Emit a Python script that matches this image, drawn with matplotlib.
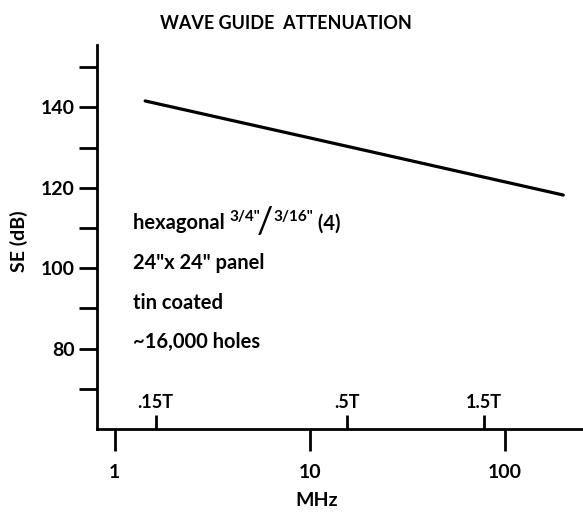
import matplotlib
matplotlib.use("Agg")
import matplotlib.pyplot as plt
from matplotlib.ticker import NullFormatter, NullLocator

# data
freq_mhz = [1.43, 10, 199]
se_db = [141.6, 132.4, 118.2]

x_ticks = [1, 10, 100]
x_tick_labels = ["1", "10", "100"]
t_ticks = [1.62, 15.5, 78]
t_tick_labels = [".15T", ".5T", "1.5T"]
y_major = [80, 100, 120, 140]
y_minor = [70, 90, 110, 130, 150]

notes = ['24"x 24" panel', "tin coated", "~16,000 holes"]

plt.rcParams['font.family'] = ['Lato', 'DejaVu Sans']

fig = plt.figure(figsize=(5.83, 5.12), dpi=100)
ax = fig.add_axes([0.1664, 0.162, 0.8336, 0.750])

ax.plot(freq_mhz, se_db, color="black", lw=2.3, solid_capstyle="round")

ax.set_xscale("log")
ax.set_xlim(0.81, 251)
ax.set_ylim(60, 155.5)

ax.spines[["top", "right"]].set_visible(False)
for s in ["left", "bottom"]:
    ax.spines[s].set_linewidth(2.0)

# x axis: decade ticks below
ax.set_xticks(x_ticks, labels=x_tick_labels)
ax.xaxis.set_minor_locator(NullLocator())
ax.xaxis.set_minor_formatter(NullFormatter())
ax.tick_params(axis="x", which="major", direction="out", length=16, width=2,
               pad=9, labelsize=14)
for lab in ax.get_xticklabels():
    lab.set_fontweight("bold")

# y axis
ax.set_yticks(y_major)
ax.set_yticks(y_minor, minor=True)
ax.tick_params(axis="y", which="both", direction="out", length=13, width=2,
               pad=3, labelsize=14)
for lab in ax.get_yticklabels():
    lab.set_fontweight("bold")

# thickness markers above the frequency axis
sec = ax.secondary_xaxis(0)
sec.set_alignment("top")
sec.set_xticks(t_ticks, labels=t_tick_labels)
sec.xaxis.set_minor_locator(NullLocator())
sec.tick_params(axis="x", which="major", direction="out", length=10, width=2,
                pad=3, labelsize=13)
sec.spines["bottom"].set_visible(False)
sec.spines["top"].set_visible(False)
for lab in sec.get_xticklabels():
    lab.set_fontweight("bold")

ax.set_xlabel("MHz", fontsize=14, fontweight="bold")
ax.xaxis.set_label_coords(0.453, -0.163)
ax.set_ylabel("SE (dB)", fontsize=14, fontweight="bold")
ax.yaxis.set_label_coords(-0.142, 0.49)

fig.text(0.49, 0.955, "WAVE GUIDE  ATTENUATION", ha="center", va="center",
         fontsize=13, fontweight="bold")

# annotation block
t0 = ax.text(0.074, 0.536, "hexagonal ", transform=ax.transAxes, va="center",
             ha="left", fontsize=14.5, fontweight="bold")
t1 = ax.annotate('3/4"', xy=(1.0, 0.45), xycoords=t0, ha="left", va="bottom",
                 fontsize=11, fontweight="bold")
t2 = ax.annotate("/", xy=(0.9, 0.1), xycoords=t1, ha="left", va="center",
                 fontsize=26)
t3 = ax.annotate('3/16"', xy=(1.0, 0.45), xycoords=(t2, t0), ha="left",
                 va="bottom", fontsize=11, fontweight="bold")
ax.annotate(" (4)", xy=(1.0, 0.5), xycoords=(t3, t0), ha="left", va="center",
            fontsize=14.5, fontweight="bold")

for i, note in enumerate(notes):
    ax.text(0.074, 0.432 - 0.103 * i, note, transform=ax.transAxes,
            va="center", ha="left", fontsize=14.5, fontweight="bold")

fig.savefig("out.png", dpi=100)
